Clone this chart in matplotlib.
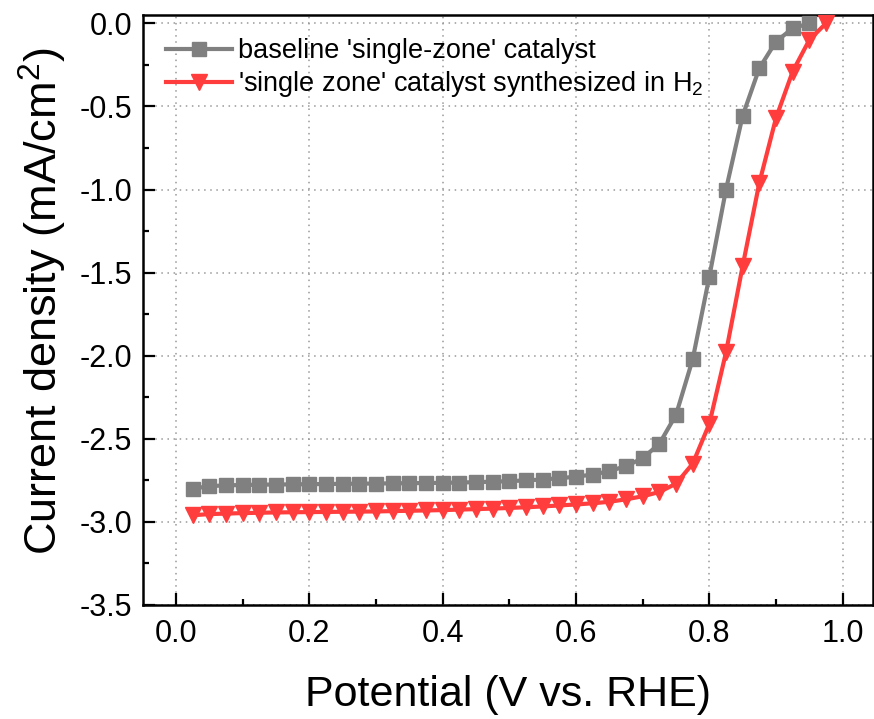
import matplotlib
matplotlib.use("Agg")
import matplotlib.pyplot as plt
from matplotlib.ticker import MultipleLocator

plt.rcParams['font.family'] = ['Liberation Sans', 'DejaVu Sans']
plt.rcParams['mathtext.fontset'] = 'custom'
plt.rcParams['mathtext.rm'] = 'Liberation Sans'

# Baseline 'single-zone' catalyst
x_base = [0.025, 0.05, 0.075, 0.1, 0.125, 0.15, 0.175, 0.2, 0.225, 0.25,
          0.275, 0.3, 0.325, 0.35, 0.375, 0.4, 0.425, 0.45, 0.475, 0.5,
          0.525, 0.55, 0.575, 0.6, 0.625, 0.65, 0.675, 0.7, 0.725, 0.75,
          0.775, 0.8, 0.825, 0.85, 0.875, 0.9, 0.925, 0.95]
y_base = [-2.80, -2.785, -2.78, -2.778, -2.776, -2.775, -2.774, -2.773, -2.772, -2.771,
          -2.770, -2.769, -2.768, -2.767, -2.766, -2.765, -2.763, -2.761, -2.758, -2.755,
          -2.750, -2.745, -2.737, -2.728, -2.715, -2.695, -2.664, -2.617, -2.53, -2.356,
          -2.022, -1.524, -1.0, -0.556, -0.27, -0.11, -0.03, 0.0]

# 'single zone' catalyst synthesized in H2
x_h2 = [0.025, 0.05, 0.075, 0.1, 0.125, 0.15, 0.175, 0.2, 0.225, 0.25,
        0.275, 0.3, 0.325, 0.35, 0.375, 0.4, 0.425, 0.45, 0.475, 0.5,
        0.525, 0.55, 0.575, 0.6, 0.625, 0.65, 0.675, 0.7, 0.725, 0.75,
        0.775, 0.8, 0.825, 0.85, 0.875, 0.9, 0.925, 0.95, 0.975]
y_h2 = [-2.96, -2.953, -2.95, -2.947, -2.945, -2.943, -2.942, -2.941, -2.940, -2.939,
        -2.938, -2.937, -2.935, -2.933, -2.931, -2.929, -2.926, -2.923, -2.920, -2.916,
        -2.912, -2.907, -2.901, -2.895, -2.888, -2.879, -2.864, -2.846, -2.82, -2.77,
        -2.65, -2.41, -1.98, -1.46, -0.96, -0.57, -0.29, -0.10, 0.0]

label_base = "baseline 'single-zone' catalyst"
label_h2 = "'single zone' catalyst synthesized in $\\mathregular{H_2}$"
xlabel = "Potential (V vs. RHE)"
ylabel = "Current density (mA/cm$\\mathregular{^2}$)"

fig = plt.figure(figsize=(8.74, 7.19), dpi=100)
ax = fig.add_axes([143/874, 114/719, (873-143)/874, (605-15)/719])

ax.plot(x_base, y_base, color='#808080', lw=3.0, marker='s', ms=9.5, label=label_base, zorder=3)
ax.plot(x_h2, y_h2, color='#ff3d3d', lw=3.0, marker='v', ms=11.5, label=label_h2, zorder=4)

ax.set_xlim(-0.0495, 1.0455)
ax.set_ylim(-3.5, 0.05)
ax.xaxis.set_major_locator(MultipleLocator(0.2))
ax.xaxis.set_minor_locator(MultipleLocator(0.1))
ax.yaxis.set_major_locator(MultipleLocator(0.5))
ax.yaxis.set_minor_locator(MultipleLocator(0.25))
ax.xaxis.set_major_formatter(matplotlib.ticker.FormatStrFormatter('%.1f'))
ax.yaxis.set_major_formatter(matplotlib.ticker.FormatStrFormatter('%.1f'))

ax.grid(True, which='major', color='#999999', linestyle=(0, (1, 3)), lw=1.1)
ax.set_axisbelow(True)

for s in ax.spines.values():
    s.set_linewidth(1.8)
ax.tick_params(which='major', direction='in', length=8.6, width=1.6, labelsize=22, pad=10,
               top=False, right=False)
ax.tick_params(which='minor', direction='in', length=4.3, width=1.6, top=False, right=False)
ax.tick_params(axis='y', which='major', pad=8)

ax.set_xlabel(xlabel, fontsize=31, labelpad=19)
ax.set_ylabel(ylabel, fontsize=32.5)
ax.yaxis.set_label_coords(-0.102, 0.515)

leg = ax.legend(loc='upper left', fontsize=19.5, frameon=False, handlelength=2.45,
                handletextpad=0.22, labelspacing=0.2, borderaxespad=0.45,
                bbox_to_anchor=(0.0, 1.0))

fig.savefig('out.png', dpi=100)
